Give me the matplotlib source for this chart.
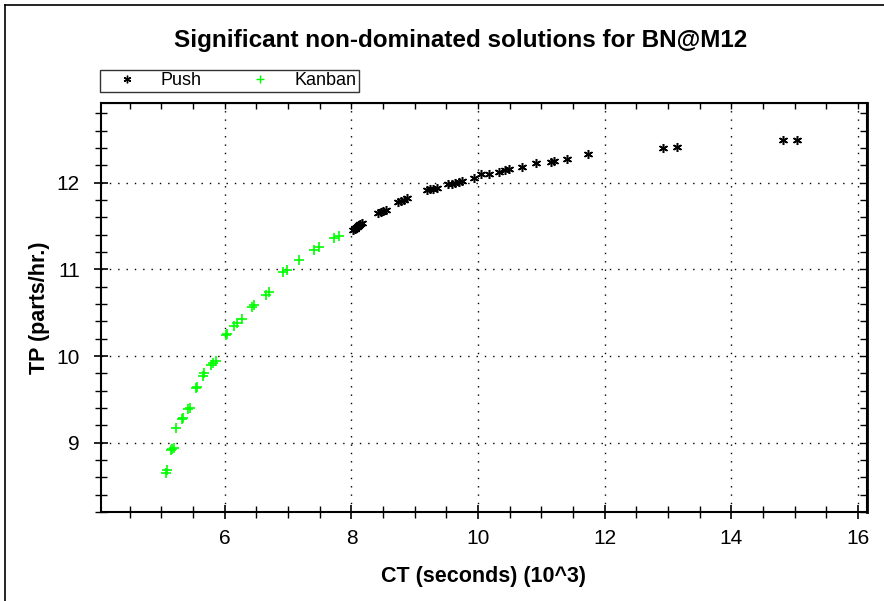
import matplotlib
matplotlib.use("Agg")
import matplotlib.pyplot as plt
from matplotlib.lines import Line2D
from matplotlib.ticker import MultipleLocator

plt.rcParams['font.family'] = ['Liberation Sans', 'DejaVu Sans']

title = "Significant non-dominated solutions for BN@M12"
xlabel = "CT (seconds) (10^3)"
ylabel = "TP (parts/hr.)"

kanban_ct = [5.079, 5.088, 5.15, 5.167, 5.19, 5.237, 5.316, 5.332, 5.42, 5.447,
             5.553, 5.54, 5.648, 5.668, 5.779, 5.815, 5.858, 6.016, 6.036, 6.147,
             6.194, 6.273, 6.431, 6.458, 6.648, 6.69, 6.921, 6.975, 7.169, 7.406,
             7.49, 7.722, 7.796]
kanban_tp = [8.654, 8.685, 8.91, 8.924, 8.94, 9.166, 9.273, 9.281, 9.39, 9.397,
             9.646, 9.635, 9.773, 9.80, 9.896, 9.923, 9.946, 10.239, 10.25, 10.346,
             10.384, 10.427, 10.569, 10.585, 10.704, 10.735, 10.965, 10.988, 11.107, 11.223,
             11.257, 11.364, 11.388]

push_ct = [8.03, 8.05, 8.06, 8.08, 8.10, 8.12, 8.14, 8.16,
           8.42, 8.46, 8.50, 8.54,
           8.74, 8.78, 8.83, 8.88,
           9.19, 9.24, 9.29, 9.35,
           9.53, 9.58, 9.63, 9.69, 9.75,
           9.93, 10.04, 10.175, 10.33, 10.42, 10.49, 10.687, 10.913,
           11.145, 11.2, 11.41, 11.73, 12.924, 13.135, 14.82, 15.03]
push_tp = [11.46, 11.47, 11.48, 11.49, 11.50, 11.51, 11.52, 11.53,
           11.646, 11.66, 11.675, 11.69,
           11.78, 11.79, 11.805, 11.82,
           11.915, 11.922, 11.93, 11.94,
           11.98, 11.99, 12.0, 12.01, 12.02,
           12.06, 12.10, 12.10, 12.12, 12.145, 12.157, 12.183, 12.23,
           12.24, 12.253, 12.27, 12.333, 12.396, 12.407, 12.49, 12.49]

xticks = [6, 8, 10, 12, 14, 16]
yticks = [9, 10, 11, 12]

fig = plt.figure(figsize=(8.84, 6.01), dpi=100)
ax = fig.add_axes([0.1139, 0.1481, 0.8669, 0.6805])

green = '#00ff00'
ax.plot(push_ct, push_tp, linestyle='none', marker=(6, 2, 0), color='black',
        markersize=6.5, markeredgewidth=1.1, label='Push', zorder=3)
ax.plot(kanban_ct, kanban_tp, linestyle='none', marker='+', color=green,
        markersize=7.5, markeredgewidth=1.2, label='Kanban', zorder=3)

xlim = (4.04, 16.14)
ylim = (8.2, 12.92)
ax.set_xlim(*xlim)
ax.set_ylim(*ylim)
ax.set_xticks(xticks)
ax.set_yticks(yticks)
ax.xaxis.set_minor_locator(MultipleLocator(0.5))
ax.yaxis.set_minor_locator(MultipleLocator(0.2))
ax.tick_params(axis='both', which='both', direction='inout', labelsize=15,
               top=False, right=False, color='black')
ax.tick_params(axis='both', which='major', length=10, width=1.2)
ax.tick_params(axis='both', which='minor', length=8, width=1.0)
ax.tick_params(axis='x', which='major', pad=7)
ax.tick_params(axis='y', which='major', pad=10)

# top and right: short inward ticks, no labels
secx = ax.secondary_xaxis('top')
secx.set_xticks(xticks)
secx.xaxis.set_minor_locator(MultipleLocator(0.5))
secx.tick_params(which='both', direction='in', length=4, width=1.0, labeltop=False)
secy = ax.secondary_yaxis('right')
secy.set_yticks(yticks)
secy.yaxis.set_minor_locator(MultipleLocator(0.2))
secy.tick_params(which='both', direction='in', length=5, width=1.0, labelright=False)

for s in ax.spines.values():
    s.set_linewidth(1.5)
secy.spines['right'].set_linewidth(2.0)
ax.grid(True, which='major', linestyle=(0, (1, 5)), color='black', linewidth=1.0)

ax.set_xlabel(xlabel, fontsize=15.5, fontweight='bold', labelpad=13)
ax.set_ylabel(ylabel, fontsize=15.5, fontweight='bold', labelpad=5)
fig.text(0.5215, 0.932, title, fontsize=17.5, fontweight='bold', ha='center', va='center')

leg = fig.legend(handles=[
    Line2D([], [], linestyle='none', marker=(6, 2, 0), color='black', markersize=5.5),
    Line2D([], [], linestyle='none', marker='+', color=green, markersize=6)],
    labels=['Push', 'Kanban'], ncol=2, loc='upper left',
    bbox_to_anchor=(0.113, 0.884), fontsize=13, frameon=True, fancybox=False,
    edgecolor='black', handlelength=2.7, handletextpad=0.53, columnspacing=1.87,
    borderpad=0.15, borderaxespad=0)
leg.get_frame().set_linewidth(1.0)

# figure border lines (left and top)
fig.add_artist(Line2D([0.006, 0.006], [0, 0.992], color='black', linewidth=1.2, transform=fig.transFigure))
fig.add_artist(Line2D([0.006, 1.0], [0.992, 0.992], color='black', linewidth=1.2, transform=fig.transFigure))

fig.savefig('out.png', dpi=100)
